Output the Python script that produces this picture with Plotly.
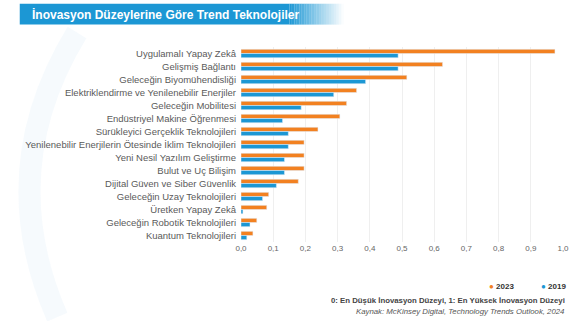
import plotly.graph_objects as go

categories = [
    "Uygulamalı Yapay Zekâ",
    "Gelişmiş Bağlantı",
    "Geleceğin Biyomühendisliği",
    "Elektriklendirme ve Yenilenebilir Enerjiler",
    "Geleceğin Mobilitesi",
    "Endüstriyel Makine Öğrenmesi",
    "Sürükleyici Gerçeklik Teknolojileri",
    "Yenilenebilir Enerjilerin Ötesinde İklim Teknolojileri",
    "Yeni Nesil Yazılım Geliştirme",
    "Bulut ve Uç Bilişim",
    "Dijital Güven ve Siber Güvenlik",
    "Geleceğin Uzay Teknolojileri",
    "Üretken Yapay Zekâ",
    "Geleceğin Robotik Teknolojileri",
    "Kuantum Teknolojileri",
]
values_2023 = [0.975, 0.626, 0.515, 0.359, 0.328, 0.307, 0.239, 0.196,
               0.196, 0.196, 0.178, 0.086, 0.080, 0.049, 0.037]
values_2019 = [0.488, 0.488, 0.387, 0.288, 0.187, 0.129, 0.147, 0.147,
               0.135, 0.135, 0.110, 0.067, 0.006, 0.028, 0.018]
x_ticks = [0.0, 0.1, 0.2, 0.3, 0.4, 0.5, 0.6, 0.7, 0.8, 0.9, 1.0]
x_tick_labels = ["0,0", "0,1", "0,2", "0,3", "0,4", "0,5", "0,6", "0,7", "0,8", "0,9", "1,0"]

W, H = 581, 321
L, R, T, B = 241, 14, 46.5, 78.5
PW, PH = W - L - R, H - T - B

ORANGE = "#F28121"
BLUE = "#1C97D4"
TEXT = "#5a5a5a"
FONT = "Liberation Sans, Arial, sans-serif"


def px(x):
    return (x - L) / PW


def py(y):
    return 1 - (y - T) / PH


fig = go.Figure()
# with a reversed category axis the first trace sits on top in each group
fig.add_trace(go.Bar(y=categories, x=values_2023, orientation="h",
                     name="2023", marker_color=ORANGE, showlegend=False))
fig.add_trace(go.Bar(y=categories, x=values_2019, orientation="h",
                     name="2019", marker_color=BLUE, showlegend=False))

shapes = []
# faint decorative arc behind the labels
shapes.append(dict(type="path", xref="paper", yref="paper",
                   path=f"M {px(75)} {py(32)} Q {px(-10)} {py(170)} {px(55)} {py(318)}",
                   line=dict(color="rgba(228,240,248,0.35)", width=22), layer="below"))

# title banner with a fade-out on the right
x0, x_solid, x1 = 17, 290, 345
shapes.append(dict(type="rect", xref="paper", yref="paper",
                   x0=px(x0), x1=px(x_solid), y0=py(24), y1=py(3),
                   fillcolor="#1C97D4", line=dict(width=0), layer="above"))
steps = 22
for i in range(steps):
    a = 1 - (i + 0.5) / steps
    xa = x_solid + (x1 - x_solid) * i / steps
    xb = x_solid + (x1 - x_solid) * (i + 1) / steps
    shapes.append(dict(type="rect", xref="paper", yref="paper",
                       x0=px(xa), x1=px(xb), y0=py(24), y1=py(3),
                       fillcolor=f"rgba(28,151,212,{a:.3f})",
                       line=dict(width=0), layer="above"))

annotations = [
    dict(text="<b>İnovasyon Düzeylerine Göre Trend Teknolojiler</b>",
         xref="paper", yref="paper", x=px(27), y=py(13.5),
         xanchor="left", yanchor="middle", showarrow=False,
         font=dict(family=FONT, size=12, color="white")),
    dict(text=f"<span style='color:{ORANGE}'>●</span> <b>2023</b>",
         xref="paper", yref="paper", x=px(519), y=py(287),
         xanchor="right", yanchor="middle", showarrow=False,
         font=dict(family=FONT, size=8, color="#333333")),
    dict(text=f"<span style='color:{BLUE}'>●</span> <b>2019</b>",
         xref="paper", yref="paper", x=px(572), y=py(287),
         xanchor="right", yanchor="middle", showarrow=False,
         font=dict(family=FONT, size=8, color="#333333")),
    dict(text="<b>0: En Düşük İnovasyon Düzeyi, 1: En Yüksek İnovasyon Düzeyi</b>",
         xref="paper", yref="paper", x=px(571), y=py(301),
         xanchor="right", yanchor="middle", showarrow=False,
         font=dict(family=FONT, size=7.8, color="#444444")),
    dict(text="<i>Kaynak: McKinsey Digital, Technology Trends Outlook, 2024</i>",
         xref="paper", yref="paper", x=px(571), y=py(312),
         xanchor="right", yanchor="middle", showarrow=False,
         font=dict(family=FONT, size=7.8, color="#555555")),
]

fig.update_layout(
    width=W, height=H,
    margin=dict(l=L, r=R, t=T, b=B, pad=0),
    paper_bgcolor="white", plot_bgcolor="white",
    barmode="group", bargap=0.36, bargroupgap=0.0,
    shapes=shapes, annotations=annotations,
    font=dict(family=FONT, size=9.5, color=TEXT),
    xaxis=dict(range=[0, 1.0], tickvals=x_ticks, ticktext=x_tick_labels,
               showgrid=True, gridcolor="#EFEFEF", gridwidth=1,
               zeroline=False, showline=False, ticks="",
               tickfont=dict(family=FONT, size=8, color="#666666")),
    yaxis=dict(autorange="reversed", showgrid=False, zeroline=False,
               showline=False, ticks="", ticklabelstandoff=4,
               tickfont=dict(family=FONT, size=9.5, color=TEXT)),
)

fig.write_html("out.html")
